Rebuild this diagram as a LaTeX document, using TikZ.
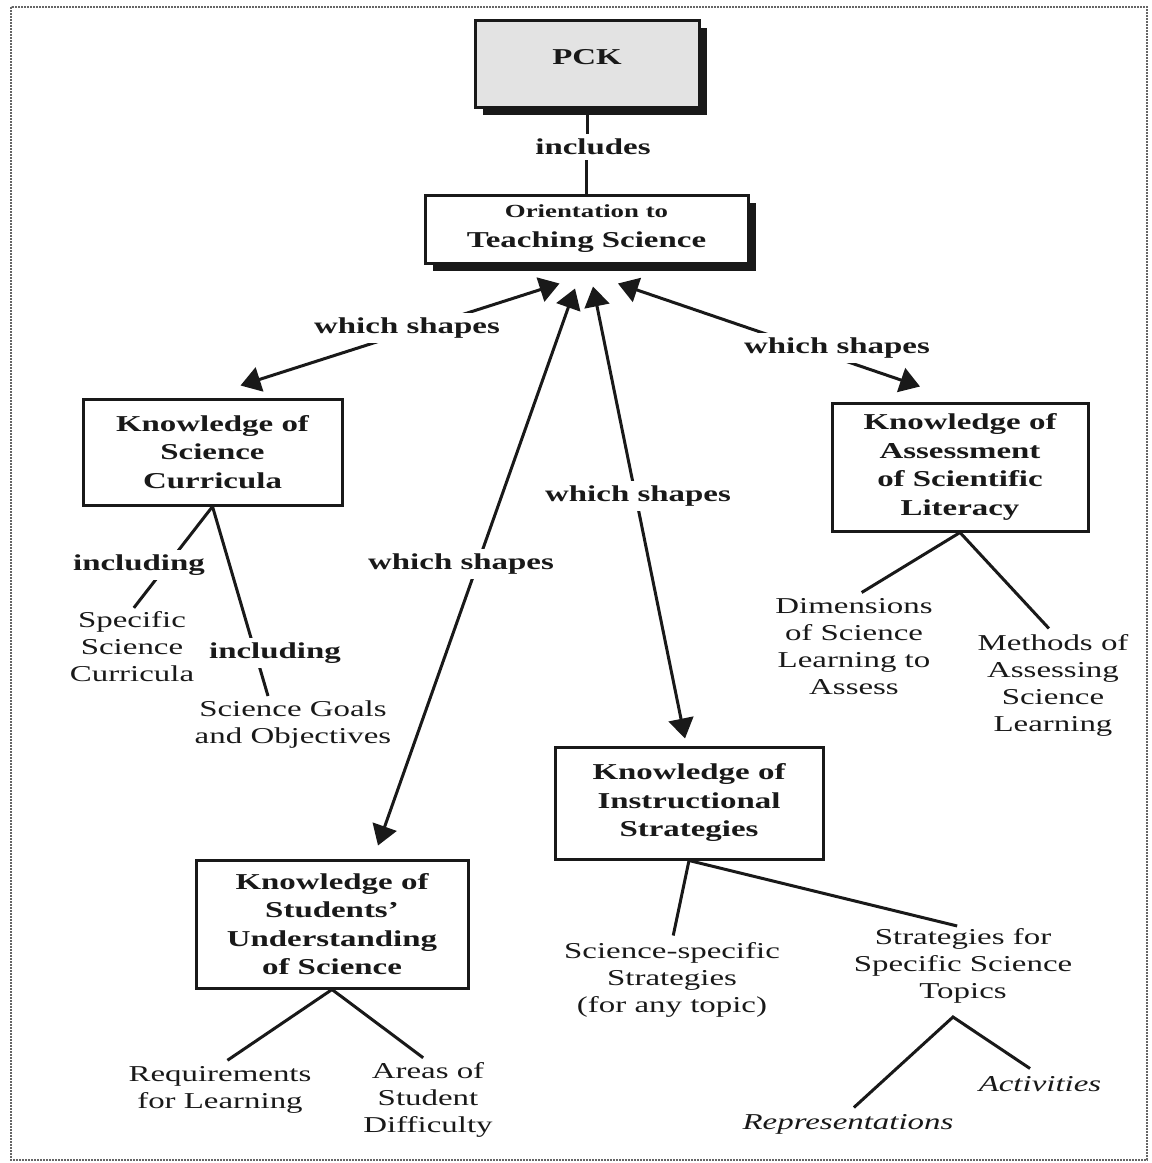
\documentclass[tikz,border=0pt]{standalone}
\usepackage{fontspec}
\setmainfont{Liberation Serif}[FakeStretch=1.45]
\usetikzlibrary{arrows.meta,calc,shadows}
\begin{document}
\begin{tikzpicture}[x=1pt,y=-1pt,
  kbox/.style={draw=black!90, line width=3pt, fill=white, align=center, inner sep=0pt,
    text=black!90, font=\bfseries\fontsize{22.7}{28.5}\selectfont},
  shad/.style={drop shadow={shadow xshift=8pt, shadow yshift=-8pt, fill=black!90, opacity=1}},
  lbl/.style={fill=white, inner sep=5pt, text=black!90, font=\bfseries\fontsize{22.7}{27}\selectfont},
  leaf/.style={align=center, inner sep=1pt, text=black!90, font=\fontsize{22.7}{27}\selectfont},
  ital/.style={leaf, font=\itshape\fontsize{22.7}{27}\selectfont},
  conn/.style={draw=black!90, line width=3pt},
  lconn/.style={conn, shorten >=6pt},
  dbl/.style={conn, {Triangle[length=20pt,width=25pt]}-{Triangle[length=20pt,width=25pt]}}
]
\useasboundingbox (0,0) rectangle (1152,1163);
\draw[black!60, line width=2.5pt, dash pattern=on 1.6pt off 1.4pt] (11,7) rectangle (1147,1160);

% boxes
\node[kbox, shad, fill=gray!22, minimum width=224pt, minimum height=87pt] (pck) at (587,63.5) {\raisebox{13pt}{PCK}};
\node[kbox, shad, minimum width=323pt, minimum height=68pt, font=\bfseries\fontsize{22.7}{30}\selectfont] (orient) at (586.5,229)
  {{\fontsize{18.5}{30}\selectfont Orientation to}\\Teaching Science};
\node[kbox, minimum width=259pt, minimum height=106pt] (curr) at (212.5,452) {Knowledge of\\Science\\Curricula};
\node[kbox, minimum width=256pt, minimum height=128pt] (assess) at (960,467) {Knowledge of\\Assessment\\of Scientific\\Literacy};
\node[kbox, minimum width=268pt, minimum height=112pt] (instr) at (689,803) {Knowledge of\\Instructional\\Strategies};
\node[kbox, minimum width=272pt, minimum height=128pt] (stud) at (332,924) {Knowledge of\\Students'\\Understanding\\of Science};

% leaves
\node[leaf] (spec) at (132,646.5) {Specific\\Science\\Curricula};
\node[leaf] (goals) at (293,725) {Science Goals\\and Objectives};
\node[leaf] (dims) at (854,646.5) {Dimensions\\of Science\\Learning to\\Assess};
\node[leaf] (meth) at (1053,685) {Methods of\\Assessing\\Science\\Learning};
\node[leaf] (req) at (220,1090) {Requirements\\for Learning};
\node[leaf] (areas) at (428,1100) {Areas of\\Student\\Difficulty};
\node[leaf] (scispec) at (672,980) {Science-specific\\Strategies\\(for any topic)};
\node[leaf] (stratf) at (963,966) {Strategies for\\Specific Science\\Topics};
\node[ital] (act) at (1040,1084) {Activities};
\node[ital] (rep) at (848,1124) {Representations};
\coordinate (apex) at (953,1017);

% includes
\node[lbl] (inc0) at (593,147) {includes};
\draw[conn] (pck.south) -- (pck.south |- inc0.north);
\draw[conn] (orient.north |- inc0.south) -- (orient.north);

% double arrows
\draw[dbl] ($(curr.north)+(28,-12)$) -- ($(orient.south)+(-27,19)$);
\draw[dbl] ($(stud.north)+(46,-13)$) -- ($(orient.south)+(-11.5,24)$);
\draw[dbl] ($(instr.north)+(-4,-7)$) -- ($(orient.south)+(6.5,22)$);
\draw[dbl] ($(assess.north)+(-40,-15)$) -- ($(orient.south)+(31.5,19)$);
\node[lbl] (ws1) at (407,328) {which shapes};
\node[lbl] (ws2) at (837,348) {which shapes};
\node[lbl] (ws3) at (638,496) {which shapes};
\node[lbl] (ws4) at (461,564) {which shapes};

% curricula
\draw[conn, shorten >=3pt] (curr.south) -- (spec.north);
\draw[conn] (curr.south) -- ($(goals.north)+(-25,-4)$);
\node[lbl] (inc1) at (139,565) {including};
\node[lbl] (inc2) at (275,653) {including};

% assessment
\draw[conn, shorten >=9pt] (assess.south) -- (dims.north);
\draw[lconn] (assess.south) -- (meth.north);

% students
\draw[conn, shorten >=9pt] (stud.south) -- (req.north);
\draw[lconn] (stud.south) -- (areas.north);

% instructional
\draw[lconn] (instr.south) -- (scispec.north);
\draw[lconn] (instr.south) -- (stratf.north);
\draw[conn, shorten <=8pt, shorten >=12pt] (rep.north) -- (apex) -- (act.north);
\end{tikzpicture}
\end{document}
